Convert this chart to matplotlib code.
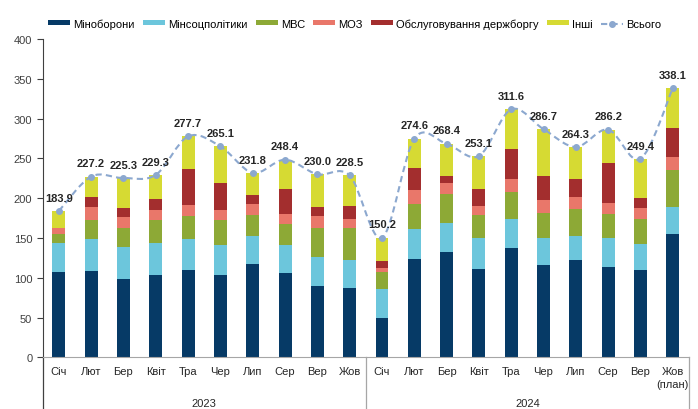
import matplotlib
matplotlib.use('Agg')
import matplotlib.pyplot as plt
from matplotlib.patches import Patch, PathPatch
from matplotlib.lines import Line2D
from matplotlib.path import Path
import matplotlib.transforms as mtransforms
import numpy as np

plt.rcParams['font.family'] = ['Liberation Sans', 'DejaVu Sans']
plt.rcParams['font.size'] = 8

months = ['Січ', 'Лют', 'Бер', 'Квіт', 'Тра', 'Чер', 'Лип', 'Сер', 'Вер', 'Жов',
          'Січ', 'Лют', 'Бер', 'Квіт', 'Тра', 'Чер', 'Лип', 'Сер', 'Вер', 'Жов\n(план)']
years = ['2023', '2024']

# млрд грн
minoborony = [107.3, 108.2, 98.1, 104.0, 109.5, 104.0, 117.9, 105.7, 90.1, 87.1,
              48.9, 123.4, 131.8, 111.6, 137.6, 115.8, 121.7, 113.6, 109.5, 154.5]
minsocpol = [36.3, 40.4, 40.4, 39.6, 39.1, 37.0, 34.9, 35.3, 35.4, 35.4,
             37.4, 37.8, 37.4, 38.7, 36.6, 34.1, 31.1, 35.9, 32.8, 34.1]
mvs = [10.9, 24.4, 24.4, 29.4, 29.4, 31.2, 26.5, 26.2, 37.4, 40.4,
       21.0, 31.2, 35.8, 28.2, 33.4, 31.5, 33.7, 30.3, 31.2, 47.0]
moz = [7.5, 16.4, 13.1, 12.2, 13.5, 13.0, 13.1, 13.0, 14.4, 11.3,
       5.1, 18.1, 13.9, 11.8, 16.4, 16.1, 15.1, 14.2, 13.9, 15.7]
debt = [1.0, 12.2, 12.0, 14.3, 45.5, 34.1, 11.4, 31.5, 12.1, 16.1,
        8.8, 27.3, 9.3, 21.4, 37.9, 30.3, 22.8, 50.2, 13.4, 36.3]
inshi = [20.9, 25.6, 37.3, 29.8, 40.7, 45.8, 28.0, 36.7, 40.6, 38.2,
         29.0, 36.8, 40.2, 41.4, 49.7, 58.9, 39.9, 42.0, 48.6, 50.5]
total = [183.9, 227.2, 225.3, 229.3, 277.7, 265.1, 231.8, 248.4, 230.0, 228.5,
         150.2, 274.6, 268.4, 253.1, 311.6, 286.7, 264.3, 286.2, 249.4, 338.1]

series = [
    ('Міноборони', minoborony, '#063A66'),
    ('Мінсоцполітики', minsocpol, '#6CC6DC'),
    ('МВС', mvs, '#8DA936'),
    ('МОЗ', moz, '#E9776A'),
    ('Обслуговування держборгу', debt, '#A32E2E'),
    ('Інші', inshi, '#D6DA33'),
]
line_color = '#8CA8CF'

fig = plt.figure(figsize=(6.98, 4.1), dpi=100)
ax = fig.add_axes([0.0612, 0.126, 0.9258, 0.7764])

x = np.arange(len(months))
bottom = np.zeros(len(months))
handles = []
for name, vals, col in series:
    ax.bar(x, vals, 0.4, bottom=bottom, color=col, zorder=2)
    bottom += np.array(vals)
    handles.append(Patch(facecolor=col, label=name))

# smooth line (Excel-style) through the totals
pts = np.column_stack([x, total]).astype(float)
verts = [pts[0]]
codes = [Path.MOVETO]
n = len(pts)
for i in range(n - 1):
    p0 = pts[max(i - 1, 0)]
    p1 = pts[i]
    p2 = pts[i + 1]
    p3 = pts[min(i + 2, n - 1)]
    verts += [p1 + (p2 - p0) / 6, p2 - (p3 - p1) / 6, p2]
    codes += [Path.CURVE4] * 3
ax.add_patch(PathPatch(Path(verts, codes), facecolor='none', edgecolor=line_color,
                       lw=1.5, linestyle=(0, (3, 2)), zorder=3))
ax.plot(x, total, 'o', color=line_color, markersize=4, zorder=4)

for xi, t in zip(x, total):
    ax.annotate(f'{t:.1f}', (xi, t), xytext=(0, 6), textcoords='offset points',
                ha='center', va='bottom', fontweight='bold', color='#262626', zorder=5)

ax.set_xlim(-0.5, len(months) - 0.5)
ax.set_ylim(0, 400)
ax.set_yticks(range(0, 401, 50))
ax.set_xticks(x)
ax.set_xticklabels(months)
ax.get_xticklabels()[-1].set_linespacing(1.45)
ax.tick_params(axis='x', length=0, pad=6, colors='#262626')
ax.tick_params(axis='y', length=4, width=0.8, color='#404040', labelcolor='#404040')

for s in ['top', 'right']:
    ax.spines[s].set_visible(False)
ax.spines['left'].set_color('#404040')
ax.spines['bottom'].set_color('#A6A6A6')

# year separators below the axis
trans = mtransforms.blended_transform_factory(ax.transData, ax.transAxes)
for xs, col in [(-0.5, '#404040'), (9.5, '#A6A6A6'), (19.5, '#A6A6A6')]:
    ax.add_line(Line2D([xs, xs], [0, -0.17], transform=trans, color=col, lw=0.9, clip_on=False))
for xc, yr in zip([4.5, 14.5], years):
    ax.text(xc, -0.142, yr, transform=trans, ha='center', va='center', color='#262626')

handles.append(Line2D([], [], color=line_color, linestyle=(0, (3, 2)), marker='o',
                      markersize=4, lw=1.5, label='Всього'))
fig.legend(handles=handles, loc='center', bbox_to_anchor=(0.508, 0.94), ncol=7,
           frameon=False, handlelength=2.0, handleheight=0.3, handletextpad=0.25,
           columnspacing=0.75, borderaxespad=0)

fig.savefig('out.png', dpi=100)
